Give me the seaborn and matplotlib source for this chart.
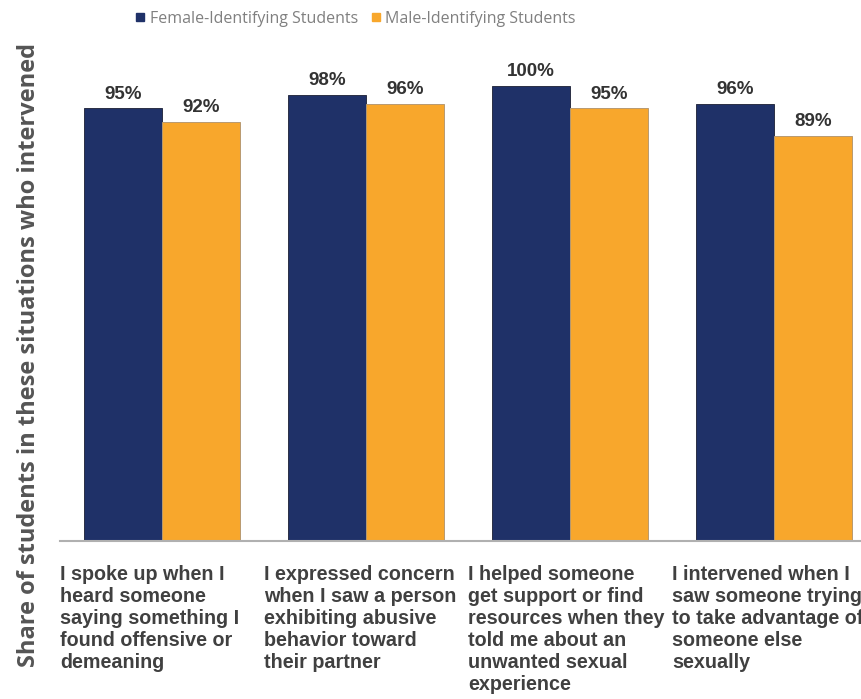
import matplotlib
matplotlib.use("Agg")
import matplotlib.pyplot as plt
import seaborn as sns
import pandas as pd
from matplotlib.lines import Line2D

categories = [
    "I spoke up when I\nheard someone\nsaying something I\nfound offensive or\ndemeaning",
    "I expressed concern\nwhen I saw a person\nexhibiting abusive\nbehavior toward\ntheir partner",
    "I helped someone\nget support or find\nresources when they\ntold me about an\nunwanted sexual\nexperience",
    "I intervened when I\nsaw someone trying\nto take advantage of\nsomeone else\nsexually",
]
groups = ["Female-Identifying Students", "Male-Identifying Students"]
female = [95, 98, 100, 96]
male = [92, 96, 95, 89]
colors = ["#1f3168", "#f8a72c"]

rows = []
for i, c in enumerate(categories):
    rows.append({"cat": c, "group": groups[0], "value": female[i]})
    rows.append({"cat": c, "group": groups[1], "value": male[i]})
df = pd.DataFrame(rows)

sns.set_style("white")
plt.rcParams["font.family"] = ["Liberation Sans", "DejaVu Sans"]

fig = plt.figure(figsize=(8.61, 6.99), dpi=100)
ax = fig.add_axes([60 / 861, 158 / 699, 816 / 861, 501 / 699])

sns.barplot(data=df, x="cat", y="value", hue="group", order=categories,
            hue_order=groups, palette=colors, width=0.76, ax=ax,
            legend=False, saturation=1, errorbar=None)

for patch, ec in zip(ax.patches, ["#2a2f45"] * 4 + ["#b89a70"] * 4):
    patch.set_edgecolor(ec)
    patch.set_linewidth(0.7)

for container in ax.containers:
    ax.bar_label(container, labels=[f"{v:.0f}%" for v in container.datavalues],
                 padding=4, fontsize=13.5, fontweight="bold", color="#333333")

ax.set_ylim(0, 110)
ax.set_xlim(-0.5, 3.5)
ax.set_yticks([])
ax.set_xticks([])
ax.set_xlabel("")
ax.set_ylabel("")
for s in ["top", "right", "left"]:
    ax.spines[s].set_visible(False)
ax.spines["bottom"].set_color("#b0b0b0")
ax.spines["bottom"].set_linewidth(1.5)

fig.text(29 / 861, 1 - 355 / 699,
         "Share of students in these situations who intervened",
         rotation=90, ha="center", va="center", fontsize=17,
         fontweight="bold", color="#555555",
         family=["Open Sans", "DejaVu Sans"])

# Category captions sit left-aligned under each group and run past the
# figure edge on the right, as in the original layout
for i, c in enumerate(categories):
    ax.text(i - 0.5, -0.048, c, transform=ax.get_xaxis_transform(),
            ha="left", va="top", fontsize=14.2, fontweight="bold",
            color="#404040", linespacing=1.2)

handles = [Line2D([0], [0], marker="s", linestyle="", markersize=5.5,
                  markerfacecolor=col, markeredgecolor=col) for col in colors]
fig.legend(handles, groups, loc="center", bbox_to_anchor=(354 / 861, 1 - 19 / 699),
           ncol=2, frameon=False, handletextpad=0.1, handlelength=1.0,
           columnspacing=0.6, labelcolor="#808080",
           prop={"family": ["Open Sans", "DejaVu Sans"], "size": 11.5})

fig.savefig("out.png", dpi=100)
